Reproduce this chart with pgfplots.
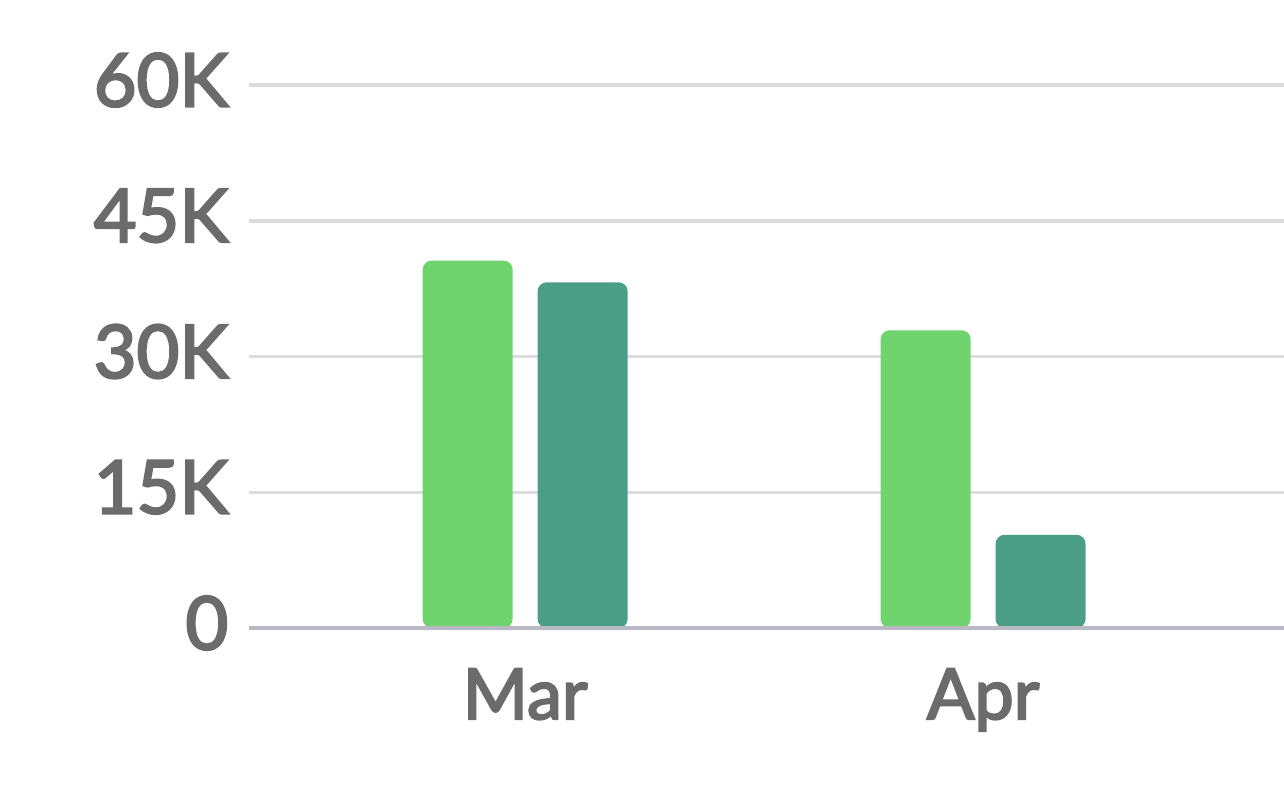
\documentclass[border=0pt]{standalone}
\usepackage{fontspec}
\setmainfont{Lato}[BoldFont=Lato, BoldFeatures={FakeBold=3}]
\usepackage{pgfplots}
\pgfplotsset{compat=1.18}
\definecolor{lightg}{RGB}{111,212,109}
\definecolor{darkg}{RGB}{74,158,133}
\definecolor{txtgray}{RGB}{107,107,107}
\definecolor{gridgray}{RGB}{221,221,221}
\definecolor{axgray}{RGB}{185,185,195}
\begin{document}
\begin{tikzpicture}
\useasboundingbox (-24.9mm,-15.6mm) rectangle (103.5mm,62.8mm);
\begin{axis}[
  scale only axis,
  width=103.5mm, height=54.3mm,
  xmin=-0.603, xmax=1.657,
  ymin=0, ymax=60000,
  scaled y ticks=false,
  xtick={0,1}, xticklabels={Mar,Apr},
  ytick={0,15000,30000,45000,60000},
  yticklabels={0,15K,30K,45K,60K},
  axis line style={draw=none},
  major tick length=0pt,
  tick style={draw=none},
  ymajorgrids,
  major grid style={gridgray, line width=0.35mm},
  yticklabel style={font=\fontsize{21}{21}\selectfont\bfseries, text=txtgray, anchor=east, inner sep=0pt, xshift=-2mm, yshift=0.5mm},
  xticklabel style={font=\fontsize{20}{20}\selectfont\bfseries, text=txtgray, anchor=north, inner sep=0pt, yshift=-4mm},
  ybar, bar width=0.1965, bar shift=0pt,
  clip=false,
]
\addplot[fill=lightg, draw=none, rounded corners=0.9mm] coordinates {(-0.1255,40600) (0.8745,32900)};
\addplot[fill=darkg, draw=none, rounded corners=0.9mm] coordinates {(0.1255,38200) (1.1255,10300)};
\draw[axgray, line width=0.4mm] (axis cs:-0.603,0) -- (axis cs:1.657,0);
\end{axis}
\end{tikzpicture}
\end{document}
